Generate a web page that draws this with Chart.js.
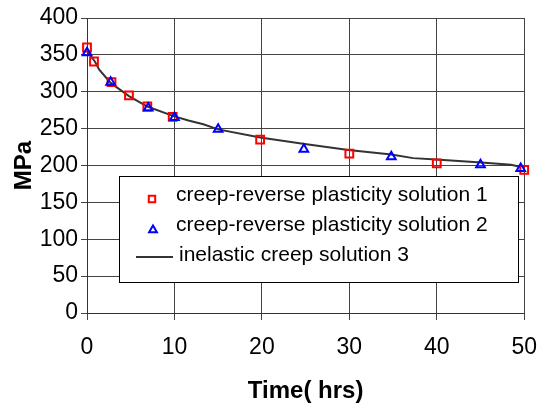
<!DOCTYPE html>
<html>
<head>
<meta charset="utf-8">
<script src="https://cdn.jsdelivr.net/npm/chart.js@4.4.0/dist/chart.umd.min.js"></script>
<style>
  html, body { margin: 0; padding: 0; background: #fff; }
  #wrap { position: relative; width: 551px; height: 414px; }
</style>
</head>
<body>
<div id="wrap"><canvas id="c" width="551" height="414"></canvas></div>
<script>
// ---- data ----
const seriesLabels = [
  'creep-reverse plasticity solution 1',
  'creep-reverse plasticity solution 2',
  'inelastic creep solution 3'
];
const sol1Time = [0, 0.8, 2.8, 4.8, 6.9, 9.8, 19.8, 30, 40, 50];
const sol1MPa  = [360, 341, 313, 295, 280, 266, 235, 216, 203, 194];
const sol2Time = [0, 2.7, 7.0, 10, 15, 24.8, 34.8, 45, 49.6];
const sol2MPa  = [353, 313, 278, 265, 249, 222, 212, 201, 196];
const sol3Time = [0, 0.9, 1.4, 2.7, 4.8, 6.9, 9.9, 11.6, 13.3, 15, 19.8, 24.9, 29.9, 34.8, 37.3, 39.9, 45.1, 48.5, 49.6];
const sol3MPa  = [355, 341, 330, 312, 294, 280, 267, 261, 256, 249, 238, 229, 221, 215, 210, 208, 204, 201, 198];
const xTicks = [0, 10, 20, 30, 40, 50];
const yTicks = [0, 50, 100, 150, 200, 250, 300, 350, 400];
const xTitle = 'Time( hrs)';
const yTitle = 'MPa';

const pts = (xs, ys) => xs.map((x, i) => ({ x: x, y: ys[i] }));
const FONT = '"Liberation Sans", Arial, sans-serif';

const legendPlugin = {
  id: 'boxLegend',
  afterDatasetsDraw(chart) {
    const ctx = chart.ctx;
    ctx.save();
    ctx.fillStyle = '#fff';
    ctx.strokeStyle = '#000';
    ctx.lineWidth = 1;
    ctx.fillRect(119.5, 176.5, 399, 106);
    ctx.strokeRect(119.5, 176.5, 399, 106);
    const rows = [
      { ds: 0, mx: 152, my: 199, tx: 176, ty: 201 },
      { ds: 1, mx: 153, my: 230, tx: 176, ty: 231 },
      { ds: 2, mx: 154, my: 257, tx: 179, ty: 261 }
    ];
    ctx.font = '21px ' + FONT;
    ctx.textBaseline = 'alphabetic';
    ctx.textAlign = 'left';
    rows.forEach(r => {
      const d = chart.data.datasets[r.ds];
      if (r.ds === 2) {
        ctx.strokeStyle = d.borderColor;
        ctx.lineWidth = 2;
        ctx.beginPath();
        ctx.moveTo(136, r.my);
        ctx.lineTo(173, r.my);
        ctx.stroke();
      } else {
        ctx.strokeStyle = d.borderColor;
        ctx.fillStyle = 'rgba(0,0,0,0)';
        ctx.lineWidth = 2;
        Chart.helpers.drawPoint(ctx, { pointStyle: d.pointStyle, radius: 4.5, rotation: 0, borderWidth: 2 }, r.mx, r.my);
      }
      ctx.fillStyle = '#000';
      ctx.fillText(d.label, r.tx, r.ty);
    });
    ctx.restore();
  }
};

new Chart(document.getElementById('c'), {
  type: 'scatter',
  data: {
    datasets: [
      {
        label: seriesLabels[0],
        data: pts(sol1Time, sol1MPa),
        pointStyle: 'rect',
        pointRadius: 5.5,
        borderColor: '#ff0000',
        backgroundColor: 'rgba(0,0,0,0)',
        borderWidth: 2,
        showLine: false,
        clip: false,
        order: 1
      },
      {
        label: seriesLabels[1],
        data: pts(sol2Time, sol2MPa),
        pointStyle: 'triangle',
        pointRadius: 5,
        borderColor: '#0000ff',
        backgroundColor: 'rgba(0,0,0,0)',
        borderWidth: 2,
        showLine: false,
        clip: false,
        order: 0
      },
      {
        label: seriesLabels[2],
        data: pts(sol3Time, sol3MPa),
        showLine: true,
        pointRadius: 0,
        borderColor: '#333333',
        borderWidth: 2,
        tension: 0,
        clip: false,
        order: 2
      }
    ]
  },
  options: {
    responsive: false,
    animation: false,
    devicePixelRatio: 1,
    layout: { padding: { top: 18, right: 23, left: 0, bottom: 0 } },
    plugins: { legend: { display: false }, tooltip: { enabled: false } },
    scales: {
      x: {
        type: 'linear',
        min: 0, max: 50,
        afterBuildTicks: s => { s.ticks = xTicks.map(v => ({ value: v })); },
        afterFit: s => { s.height = 101; },
        ticks: { color: '#000', font: { family: FONT, size: 23 }, padding: 14, maxRotation: 0 },
        grid: { color: '#444', lineWidth: 1, tickLength: 7, tickColor: '#444' },
        border: { color: '#333', width: 1 },
        title: { display: true, text: xTitle, color: '#000', font: { family: FONT, size: 24, weight: 'bold' }, padding: { top: 0, bottom: 8 } }
      },
      y: {
        type: 'linear',
        min: 0, max: 400,
        afterBuildTicks: s => { s.ticks = yTicks.map(v => ({ value: v })); },
        afterFit: s => { s.width = 87; },
        ticks: { color: '#000', font: { family: FONT, size: 23 }, padding: 3 },
        grid: { color: '#444', lineWidth: 1, tickLength: 6, tickColor: '#444' },
        border: { color: '#333', width: 1 },
        title: { display: true, text: yTitle, color: '#000', font: { family: FONT, size: 24, weight: 'bold' }, padding: { top: 10, bottom: 0 } }
      }
    }
  },
  plugins: [legendPlugin]
});
</script>
</body>
</html>
